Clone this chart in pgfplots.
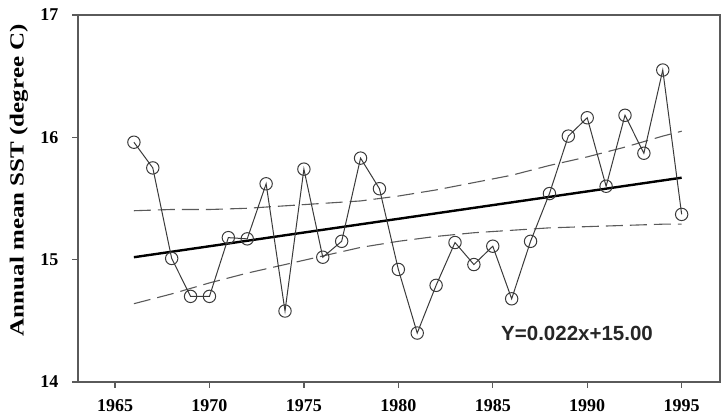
\documentclass[border=0pt]{standalone}
\usepackage{fontspec}
\setmainfont{Liberation Serif}
\newfontfamily\arialfont{Liberation Sans}
\usepackage{pgfplots}
\pgfplotsset{compat=1.18}
\definecolor{frame}{HTML}{5A5A5A}
\definecolor{dataline}{HTML}{3A3A3A}
\definecolor{band}{HTML}{5A5A5A}
\begin{document}
\begin{tikzpicture}
\begin{axis}[
  at={(78pt,37pt)}, anchor=south west,
  width=642pt, height=367pt, scale only axis,
  xmin=1963.04, xmax=1997.03, ymin=14, ymax=17,
  xtick={1965,1970,...,1995}, ytick={14,15,16,17},
  tick align=outside, tick pos=left,
  major tick length=6pt,
  axis line style={draw=frame, line width=1.2pt},
  tick style={draw=frame, line width=1.2pt},
  /pgf/number format/assume math mode=true,
  /pgf/number format/1000 sep={},
  x tick label style={font=\bfseries\fontsize{18}{18}\selectfont, yshift=-8pt},
  y tick label style={font=\bfseries\fontsize{18}{18}\selectfont, xshift=-10pt},
  ylabel={\scalebox{1.25}[1]{Annual mean SST (degree C)}},
  ylabel style={font=\bfseries\fontsize{20}{20}\selectfont, at={(axis description cs:-0.092,0.55)}, rotate=0, anchor=center},
  clip=false,
]
% 95% confidence band (upper)
\addplot[band, line width=1.1pt, dash pattern=on 17pt off 7pt] coordinates {
(1966,15.40) (1968,15.41) (1970,15.41) (1972,15.42) (1974,15.44) (1976,15.46)
(1978,15.48) (1980,15.52) (1982,15.57) (1984,15.63) (1986,15.69) (1988,15.77)
(1990,15.84) (1992,15.92) (1994,16.01) (1995,16.05)};
% 95% confidence band (lower)
\addplot[band, line width=1.1pt, dash pattern=on 17pt off 7pt] coordinates {
(1966,14.64) (1968,14.72) (1970,14.81) (1972,14.89) (1974,14.96) (1976,15.03)
(1978,15.10) (1980,15.15) (1982,15.19) (1984,15.22) (1986,15.24) (1988,15.26)
(1990,15.27) (1992,15.28) (1994,15.29) (1995,15.29)};
% regression line
\addplot[black, line width=2.4pt] coordinates {(1966,15.02) (1995,15.67)};
% annual mean SST
\addplot[dataline, line width=1pt, mark=o, mark size=6.2pt,
  mark options={fill=white, draw=dataline, line width=1pt}] coordinates {
(1966,15.96) (1967,15.75) (1968,15.01) (1969,14.70) (1970,14.70)
(1971,15.18) (1972,15.17) (1973,15.62) (1974,14.58) (1975,15.74)
(1976,15.02) (1977,15.15) (1978,15.83) (1979,15.58) (1980,14.92)
(1981,14.40) (1982,14.79) (1983,15.14) (1984,14.96) (1985,15.11)
(1986,14.68) (1987,15.15) (1988,15.54) (1989,16.01) (1990,16.16)
(1991,15.60) (1992,16.18) (1993,15.87) (1994,16.55) (1995,15.37)};
\node[font=\arialfont\bfseries\fontsize{20.5}{20.5}\selectfont, text=black!85] at (axis cs:1989.46,14.40) {Y=0.022x+15.00};
\end{axis}
\pgfresetboundingbox
\useasboundingbox (0,0) rectangle (724pt,419pt);
\end{tikzpicture}
\end{document}
